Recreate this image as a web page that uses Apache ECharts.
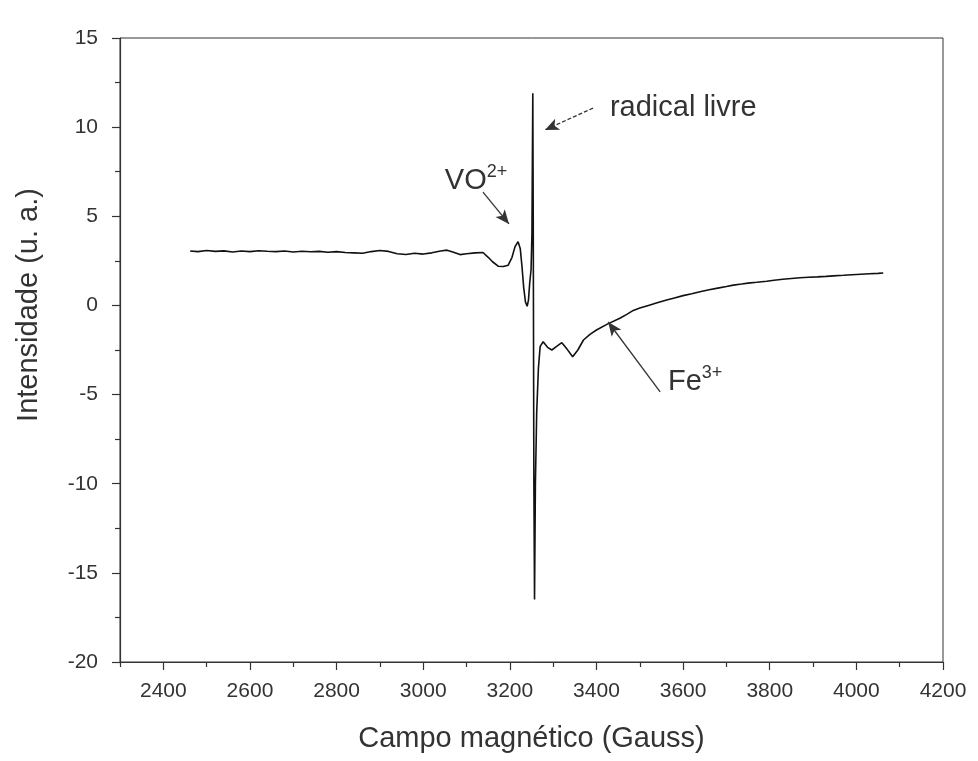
<!DOCTYPE html>
<html>
<head>
<meta charset="utf-8">
<script src="https://cdn.jsdelivr.net/npm/echarts@6/dist/echarts.min.js"></script>
<style>
html,body{margin:0;padding:0;background:#fff;}
#chart{width:978px;height:761px;}
</style>
</head>
<body>
<div id="chart"></div>
<script>
// Magnetic field (Gauss)
var field = [
  2462, 2480, 2500, 2520, 2540, 2560, 2580, 2600, 2620, 2640,
  2660, 2680, 2700, 2720, 2740, 2760, 2780, 2800, 2820, 2840,
  2860, 2880, 2900, 2920, 2940, 2960, 2980, 3000, 3020, 3040,
  3055, 3070, 3085, 3100, 3120, 3138, 3150, 3160, 3173, 3185,
  3196, 3205, 3212, 3219, 3224, 3228, 3232, 3236, 3240, 3243,
  3246, 3249, 3251, 3253, 3254, 3255.5, 3257, 3259, 3262, 3266,
  3270, 3277, 3287, 3297, 3308, 3320, 3332, 3345, 3357, 3370,
  3385, 3400, 3425, 3454, 3470, 3485, 3500, 3520, 3540, 3562,
  3580, 3600, 3620, 3639, 3660, 3680, 3700, 3716, 3735, 3750,
  3770, 3793, 3810, 3830, 3850, 3870, 3890, 3910, 3930, 3947,
  3970, 3990, 4010, 4030, 4050, 4062
];
// Intensity (u. a.)
var intensity = [
  3.05, 3.02, 3.08, 3.03, 3.06, 3.00, 3.05, 3.02, 3.07, 3.04,
  3.02, 3.05, 3.00, 3.04, 3.01, 3.03, 2.98, 3.02, 2.97, 2.95,
  2.93, 3.02, 3.08, 3.03, 2.90, 2.86, 2.93, 2.88, 2.95, 3.05,
  3.10, 2.98, 2.85, 2.90, 2.95, 2.97, 2.70, 2.45, 2.20, 2.18,
  2.25, 2.70, 3.30, 3.57, 3.20, 2.20, 1.00, 0.20, -0.05, 0.30,
  1.30, 2.00, 4.00, 11.9, 5.0, -10.0, -16.5, -10.0, -6.0, -3.5,
  -2.3, -2.04, -2.35, -2.50, -2.30, -2.09, -2.45, -2.88, -2.50, -1.94,
  -1.62, -1.38, -1.05, -0.72, -0.50, -0.28, -0.15, 0.00, 0.15, 0.30,
  0.42, 0.55, 0.66, 0.77, 0.88, 0.97, 1.06, 1.14, 1.20, 1.25,
  1.30, 1.36, 1.41, 1.47, 1.51, 1.55, 1.58, 1.60, 1.63, 1.66,
  1.69, 1.72, 1.75, 1.78, 1.80, 1.82
];
var xMajorTicks = [2400, 2600, 2800, 3000, 3200, 3400, 3600, 3800, 4000, 4200];
var xMinorTicks = [2300, 2500, 2700, 2900, 3100, 3300, 3500, 3700, 3900, 4100];

// annotations: [x, y] in data units
var radicalArrow = [[3392, 11.07], [3281, 9.84]];
var radicalText = [3431, 11.07];
var voArrow = [[3138, 6.36], [3198, 4.57]];
var voText = [3050, 7.0];
var feArrow = [[3547, -4.85], [3427, -0.93]];
var feText = [3565, -4.3];

var data = field.map(function (f, i) { return [f, intensity[i]]; });
var textColor = '#333';
var axisColor = '#333';
var fontFam = '"Liberation Sans", Arial, sans-serif';

var chart = echarts.init(document.getElementById('chart'));
chart.setOption({
  animation: false,
  backgroundColor: '#fff',
  grid: { left: 120, right: 35, top: 38, bottom: 99, containLabel: false, outerBoundsMode: 'none',
    show: true, borderColor: axisColor, borderWidth: 1, backgroundColor: 'transparent' },
  xAxis: [{
    type: 'value', min: 2300, max: 4200,
    name: 'Campo magnético (Gauss)', nameLocation: 'middle', nameGap: 62,
    nameTextStyle: { fontSize: 29, color: textColor, fontFamily: fontFam },
    axisLine: { show: true, onZero: false, lineStyle: { color: axisColor, width: 1.2 } },
    axisTick: { show: true, customValues: xMajorTicks, length: 8, lineStyle: { color: axisColor, width: 1.2 } },
    axisLabel: { customValues: xMajorTicks, fontSize: 21, color: textColor, fontFamily: fontFam, margin: 19,
      formatter: function (v) { return String(v); } },
    splitLine: { show: false }
  }, {
    type: 'value', min: 2300, max: 4200, position: 'bottom',
    axisLine: { show: false, onZero: false },
    axisTick: { show: true, customValues: xMinorTicks, length: 5, lineStyle: { color: axisColor, width: 1.2 } },
    axisLabel: { show: false },
    splitLine: { show: false }
  }],
  yAxis: {
    type: 'value', min: -20, max: 15, interval: 5,
    name: 'Intensidade (u. a.)', nameLocation: 'middle', nameGap: 77,
    nameTextStyle: { fontSize: 29, color: textColor, fontFamily: fontFam, padding: [0, 0, 0, 90] },
    axisLine: { show: true, onZero: false, lineStyle: { color: axisColor, width: 1.2 } },
    axisTick: { show: true, length: 8, lineStyle: { color: axisColor, width: 1.2 } },
    minorTick: { show: true, splitNumber: 2, length: 5, lineStyle: { color: axisColor, width: 1.2 } },
    axisLabel: { fontSize: 21, color: textColor, fontFamily: fontFam, margin: 22 },
    splitLine: { show: false }
  },
  series: [{
    type: 'line',
    data: data,
    showSymbol: false,
    lineStyle: { color: '#111', width: 1.6 },
    markLine: {
      silent: true,
      symbol: ['none', 'arrow'],
      symbolSize: [9, 14],
      label: { show: false },
      lineStyle: { color: '#333', width: 1.3, type: 'solid' },
      data: [
        [{ coord: radicalArrow[0], lineStyle: { type: [4, 2], color: '#333' } }, { coord: radicalArrow[1] }],
        [{ coord: voArrow[0] }, { coord: voArrow[1] }],
        [{ coord: feArrow[0] }, { coord: feArrow[1] }]
      ]
    },
    markPoint: {
      silent: true,
      symbol: 'circle', symbolSize: 0,
      label: {
        show: true, position: 'right', distance: 0,
        color: textColor, fontFamily: fontFam,
        rich: {
          t: { fontSize: 29, color: textColor, fontFamily: fontFam, lineHeight: 36 },
          s: { fontSize: 18, color: textColor, fontFamily: fontFam, lineHeight: 18, verticalAlign: 'top' }
        }
      },
      data: [
        { coord: radicalText, label: { formatter: '{t|radical livre}' } },
        { coord: voText, label: { formatter: '{t|VO}{s|2+}' } },
        { coord: feText, label: { formatter: '{t|Fe}{s|3+}' } }
      ]
    }
  }]
});
</script>
</body>
</html>
